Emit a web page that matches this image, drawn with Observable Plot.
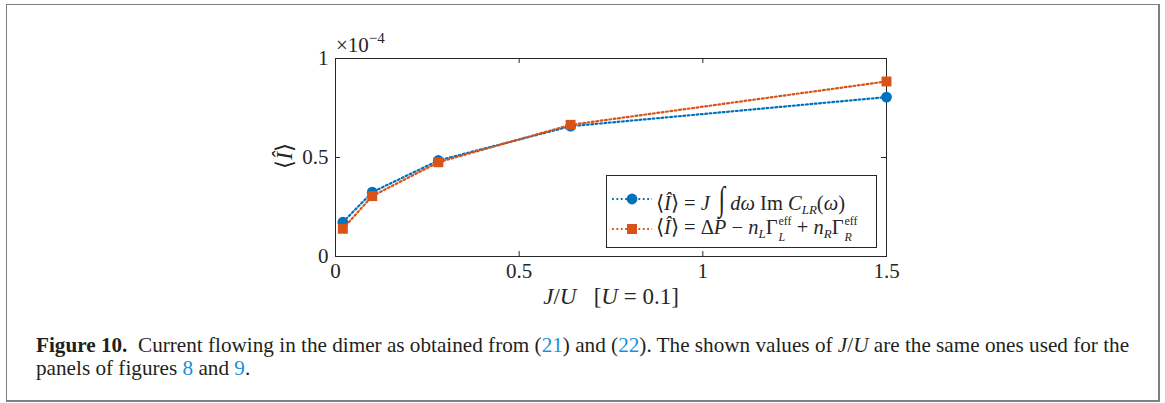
<!DOCTYPE html>
<html><head><meta charset="utf-8">
<script src="https://cdn.jsdelivr.net/npm/d3@7"></script>
<script src="https://cdn.jsdelivr.net/npm/@observablehq/plot@0.6"></script>
<style>
body{margin:0;background:#fff;}
#wrap{position:relative;width:1165px;height:403px;overflow:hidden;font-family:"Liberation Serif",serif;color:#262626;}
#frame{position:absolute;left:6px;top:4px;width:1154px;height:398px;box-sizing:border-box;border-left:1.5px solid #808080;border-top:1.5px solid #808080;border-right:2px solid #808080;border-bottom:2px solid #808080;}
#chart{position:absolute;left:0;top:0;}
#legend{position:absolute;left:606px;top:175px;width:271px;height:73px;box-sizing:border-box;border:1px solid #262626;background:#fff;font-size:20.5px;}
.row{position:absolute;left:4px;height:30px;display:flex;align-items:center;white-space:nowrap;}
.row svg{flex:none;margin-right:3px;}
.i{font-style:italic;}
.ss{display:inline-flex;flex-direction:column;vertical-align:middle;font-size:12px;line-height:13px;margin-left:1px;}
.ss .up{font-style:normal;transform:translateY(-2px);}
.ss .dn{font-style:italic;transform:translateY(1px);}
sub{font-size:13px;font-style:italic;vertical-align:-4px;line-height:0;}
.int{font-size:34px;font-weight:lighter;font-style:italic;display:inline-block;transform:scaleX(0.7);margin:0 4px 0 2px;}
#caption{position:absolute;left:36px;top:334px;font-size:21.2px;line-height:23px;white-space:nowrap;color:#231f20;}
#caption a{color:#1b8fd7;text-decoration:none;}
</style></head>
<body>
<div id="wrap">
  <div id="frame"></div>
  <div id="chart"></div>
  <div id="legend"></div>
  <div id="caption"><b>Figure 10.</b>&nbsp;&nbsp;Current flowing in the dimer as obtained from (<a>21</a>) and (<a>22</a>). The shown values of <i>J</i>/<i>U</i> are the same ones used for the<br>panels of figures <a>8</a> and <a>9</a>.</div>
</div>
<script>
// ---- data (values in units of 1e-4) ----
const xValues = [0.02, 0.1, 0.28, 0.64, 1.5];
const seriesA = [0.173, 0.325, 0.485, 0.658, 0.805];   // J ∫ dω Im C_LR(ω)
const seriesB = [0.14, 0.305, 0.476, 0.665, 0.884];    // ΔP − nL ΓL + nR ΓR
const xTicks = [0, 0.5, 1, 1.5];
const xTickLabels = ["0", "0.5", "1", "1.5"];
const yTicks = [0, 0.5, 1];
const yTickLabels = ["0", "0.5", "1"];
const colorA = "#0072BD";
const colorB = "#D95319";

const dataA = xValues.map((x, i) => ({x, y: seriesA[i]}));
const dataB = xValues.map((x, i) => ({x, y: seriesB[i]}));
const axisColor = "#262626";
const dash = "1.8,2.6";

const plot = Plot.plot({
  width: 1165, height: 320,
  marginLeft: 335, marginRight: 279, marginTop: 58, marginBottom: 64,
  x: {domain: [0, 1.5]},
  y: {domain: [0, 1]},
  style: {fontFamily: "Liberation Serif", fontSize: "21px", color: axisColor, background: "transparent", overflow: "visible"},
  marks: [
    Plot.axisX(xTicks, {tickSize: 0, tickPadding: 7, label: null, fill: axisColor, fontSize: 21,
      tickFormat: d => xTickLabels[xTicks.indexOf(d)]}),
    Plot.axisY(yTicks, {tickSize: 0, tickPadding: 7, label: null, fill: axisColor, fontSize: 21,
      tickFormat: d => yTickLabels[yTicks.indexOf(d)]}),
    Plot.frame({stroke: axisColor, strokeWidth: 1}),
    Plot.ruleX(xTicks.slice(1, -1), {x: d => d, y1: 0, y2: 0.025, stroke: axisColor}),
    Plot.ruleX(xTicks.slice(1, -1), {x: d => d, y1: 1, y2: 0.975, stroke: axisColor}),
    Plot.ruleY(yTicks.slice(1, -1), {y: d => d, x1: 0, x2: 0.0136, stroke: axisColor}),
    Plot.ruleY(yTicks.slice(1, -1), {y: d => d, x1: 1.5, x2: 1.5 - 0.0136, stroke: axisColor}),
    Plot.line(dataA, {x: "x", y: "y", stroke: colorA, strokeWidth: 2.2, strokeDasharray: dash}),
    Plot.dot(dataA, {x: "x", y: "y", r: 5.4, fill: colorA, stroke: "none"}),
    Plot.line(dataB, {x: "x", y: "y", stroke: colorB, strokeWidth: 2.2, strokeDasharray: dash}),
    Plot.dot(dataB, {x: "x", y: "y", r: 5.6, symbol: "square", fill: colorB, stroke: "none"})
  ]
});
document.getElementById("chart").appendChild(plot);

// ---- extra labels in the SVG ----
const svg = d3.select(plot);
function txt(x, y, anchor, size) {
  return svg.append("text").attr("x", x).attr("y", y)
    .style("text-anchor", anchor).style("font-family", "Liberation Serif")
    .style("font-size", size + "px").style("fill", axisColor).style("white-space", "pre");
}
const t1 = txt(336, 52, "start", 21);
t1.append("tspan").text("×10");
t1.append("tspan").attr("dy", -9).style("font-size", "15px").text("−4");

const yl = svg.append("text").attr("transform", "translate(292,156) rotate(-90)")
  .style("text-anchor", "middle").style("font-family", "Liberation Serif").style("font-size", "23px").style("fill", axisColor);
yl.append("tspan").text("⟨");
yl.append("tspan").style("font-style", "italic").text("Î");
yl.append("tspan").text("⟩");

const xl = txt(611, 304, "middle", 23);
xl.append("tspan").style("font-style", "italic").text("J");
xl.append("tspan").text("/");
xl.append("tspan").style("font-style", "italic").text("U");
xl.append("tspan").text("   [");
xl.append("tspan").style("font-style", "italic").text("U");
xl.append("tspan").text(" = 0.1]");

// ---- legend ----
function sample(color, square) {
  const s = d3.create("svg").attr("width", 42).attr("height", 14);
  s.append("line").attr("x1", 1).attr("x2", 41).attr("y1", 7).attr("y2", 7)
    .attr("stroke", color).attr("stroke-width", 2.2).attr("stroke-dasharray", dash);
  if (square) s.append("rect").attr("x", 16).attr("y", 2).attr("width", 10).attr("height", 10).attr("fill", color);
  else s.append("circle").attr("cx", 21).attr("cy", 7).attr("r", 5.4).attr("fill", color);
  return s.node();
}
const legend = document.getElementById("legend");
const r1 = document.createElement("div"); r1.className = "row"; r1.style.top = "8px";
r1.appendChild(sample(colorA, false));
r1.insertAdjacentHTML("beforeend", '<span>⟨<span class="i">Î</span>⟩ = <span class="i">J</span> <span class="int">∫</span><span class="i">dω</span> Im <span class="i">C</span><sub>LR</sub>(<span class="i">ω</span>)</span>');
const r2 = document.createElement("div"); r2.className = "row"; r2.style.top = "38px";
r2.appendChild(sample(colorB, true));
r2.insertAdjacentHTML("beforeend", '<span>⟨<span class="i">Î</span>⟩ = Δ<span class="i">P</span> − <span class="i">n</span><sub>L</sub>Γ<span class="ss"><span class="up">eff</span><span class="dn">L</span></span> + <span class="i">n</span><sub>R</sub>Γ<span class="ss"><span class="up">eff</span><span class="dn">R</span></span></span>');
legend.appendChild(r1); legend.appendChild(r2);
</script>
</body></html>
